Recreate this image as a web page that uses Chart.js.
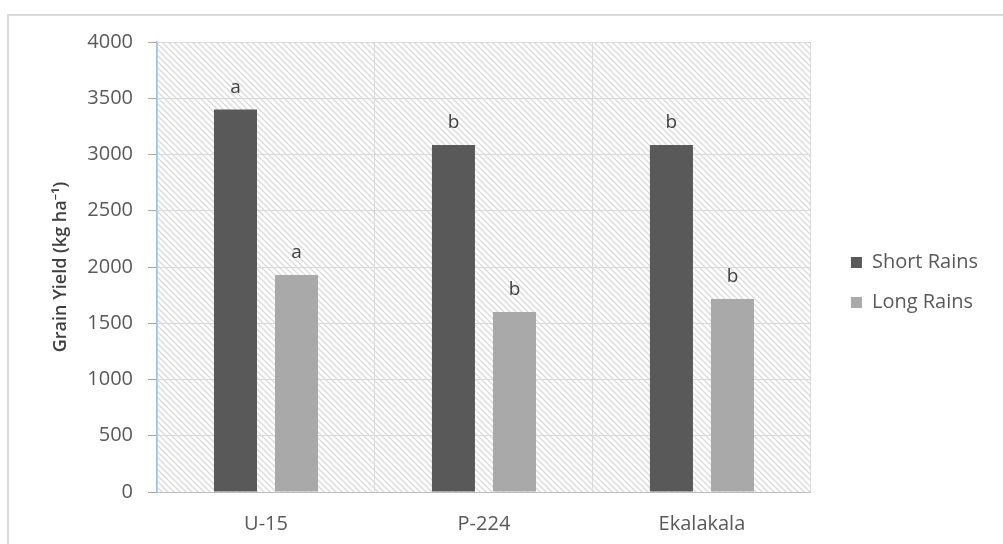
<!DOCTYPE html>
<html>
<head>
<meta charset="utf-8">
<script src="https://cdn.jsdelivr.net/npm/chart.js@4.4.1/dist/chart.umd.min.js"></script>
<style>
  html, body { margin: 0; padding: 0; background: #fff; }
  #wrap { width: 1003px; height: 544px; position: relative; }
</style>
</head>
<body>
<div id="wrap"><canvas id="yieldChart"></canvas></div>
<script>
// ---- data ----
const varieties = ['U-15', 'P-224', 'Ekalakala'];
const shortRains = [3400, 3085, 3085];
const longRains = [1930, 1600, 1715];
const shortLetters = ['a', 'b', 'b'];
const longLetters = ['a', 'b', 'b'];
const yTicks = [0, 500, 1000, 1500, 2000, 2500, 3000, 3500, 4000];

const FONT = "'Open Sans', 'Noto Sans', sans-serif";
const textGrey = '#595959';

// diagonal hatch used behind the plot
function makeHatch() {
    const c = document.createElement('canvas');
    c.width = 6;
    c.height = 6;
    const g = c.getContext('2d');
    g.fillStyle = '#ffffff';
    g.fillRect(0, 0, 6, 6);
    g.strokeStyle = '#dadada';
    g.lineWidth = 1.3;
    g.beginPath();
    g.moveTo(-1, -1); g.lineTo(7, 7);
    g.moveTo(-4, 2); g.lineTo(4, 10);
    g.moveTo(2, -4); g.lineTo(10, 4);
    g.stroke();
    return c;
}

const backdrop = {
    id: 'backdrop',
    beforeDraw(chart) {
        const ctx = chart.ctx;
        const a = chart.chartArea;
        ctx.save();
        ctx.fillStyle = '#fff';
        ctx.fillRect(0, 0, chart.width, chart.height);
        // outer frame
        ctx.strokeStyle = '#d9d9d9';
        ctx.lineWidth = 2;
        ctx.strokeRect(8, 15, chart.width + 10, chart.height + 10);
        // hatched plot area
        ctx.fillStyle = ctx.createPattern(makeHatch(), 'repeat');
        ctx.fillRect(a.left, a.top, a.right - a.left, a.bottom - a.top);
        ctx.restore();
    }
};

// legend sits a little higher than a full-height box would centre it
const legendLift = {
    id: 'legendLift',
    afterLayout(chart) {
        const lg = chart.legend;
        if (lg) {
            lg.bottom = chart.height - 21;
            lg.height = lg.bottom - lg.top;
        }
    }
};

const letterLabels = {
    id: 'letterLabels',
    afterDatasetsDraw(chart) {
        const ctx = chart.ctx;
        const sets = [shortLetters, longLetters];
        ctx.save();
        ctx.font = '19px ' + FONT;
        ctx.fillStyle = '#404040';
        ctx.textAlign = 'center';
        ctx.textBaseline = 'alphabetic';
        sets.forEach((letters, di) => {
            chart.getDatasetMeta(di).data.forEach((bar, i) => {
                ctx.fillText(letters[i], bar.x, bar.y - 17);
            });
        });
        ctx.restore();
    }
};

const config = {
    type: 'bar',
    data: {
        labels: varieties,
        datasets: [{
            label: 'Short Rains',
            data: shortRains,
            backgroundColor: '#595959',
            categoryPercentage: 0.56,
            barPercentage: 0.705
        }, {
            label: 'Long Rains',
            data: longRains,
            backgroundColor: '#a9a9a9',
            categoryPercentage: 0.56,
            barPercentage: 0.705
        }]
    },
    options: {
        responsive: true,
        maintainAspectRatio: false,
        animation: false,
        layout: {
            padding: { left: 20, top: 42, right: 15, bottom: 0 }
        },
        plugins: {
            legend: {
                position: 'right',
                align: 'center',
                labels: {
                    boxWidth: 11,
                    boxHeight: 11,
                    padding: 20,
                    color: textGrey,
                    font: { family: FONT, size: 20 }
                }
            },
            tooltip: { enabled: false }
        },
        scales: {
            x: {
                grid: {
                    color: '#d9d9d9',
                    drawTicks: false,
                    offset: true
                },
                border: { color: '#bfbfbf', width: 1 },
                ticks: {
                    color: textGrey,
                    padding: 20,
                    font: { family: FONT, size: 20 }
                },
                afterFit(scale) { scale.height = 52; }
            },
            y: {
                min: 0,
                max: 4000,
                afterBuildTicks(scale) {
                    scale.ticks = yTicks.map(v => ({ value: v }));
                },
                grid: {
                    color: '#d9d9d9',
                    tickColor: '#a6a6a6',
                    tickLength: 9
                },
                border: { color: '#9dc3e6', width: 1.5, z: 1 },
                ticks: {
                    color: textGrey,
                    padding: 15,
                    font: { family: FONT, size: 20 },
                    callback: value => String(value)
                },
                title: {
                    display: true,
                    text: 'Grain Yield (kg ha\u207B\u00B9)',
                    color: '#404040',
                    padding: { top: 30, bottom: 0 },
                    font: { family: FONT, size: 18, weight: '600' }
                },
                afterFit(scale) { scale.width = 137; }
            },
            spacer: {
                type: 'linear',
                position: 'right',
                display: true,
                grid: { display: false },
                border: { display: false },
                ticks: { display: false },
                afterFit(scale) { scale.width = 20; }
            }
        }
    },
    plugins: [backdrop, legendLift, letterLabels]
};

new Chart(document.getElementById('yieldChart'), config);
</script>
</body>
</html>
